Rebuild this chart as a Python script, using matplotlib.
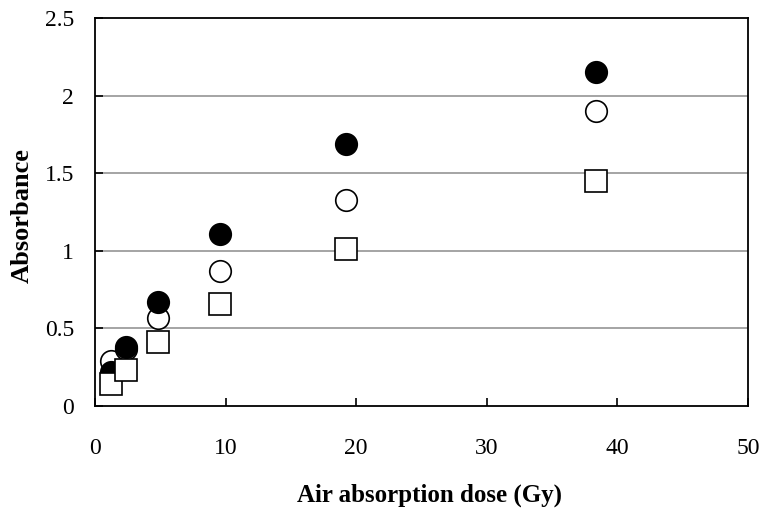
import matplotlib
matplotlib.use("Agg")
import matplotlib.pyplot as plt

# dose (Gy)
DOSE = [1.2, 2.4, 4.8, 9.6, 19.2, 38.4]
OPEN_CIRCLE = [0.29, 0.37, 0.57, 0.87, 1.33, 1.90]
FILLED_CIRCLE = [0.22, 0.38, 0.67, 1.11, 1.69, 2.15]
SQUARE = [0.14, 0.23, 0.41, 0.66, 1.01, 1.45]

X_TICKS = [0, 10, 20, 30, 40, 50]
Y_TICKS = [0, 0.5, 1, 1.5, 2, 2.5]
Y_TICK_LABELS = ["0", "0.5", "1", "1.5", "2", "2.5"]

plt.rcParams['font.family'] = ['Liberation Serif', 'DejaVu Serif']


def main():
    fig = plt.figure(figsize=(7.64, 5.08), dpi=100)
    ax = fig.add_axes([0.1243, 0.2008, 0.8547, 0.7638])

    ax.set_xlim(0, 50)
    ax.set_ylim(0, 2.5)

    for y in Y_TICKS[1:-1]:
        ax.axhline(y, color='#8c8c8c', lw=1.1, zorder=0)

    ax.plot(DOSE, OPEN_CIRCLE, 'o', ms=15.5, mfc='white', mec='black', mew=1.2,
            linestyle='none', zorder=2)
    ax.plot(DOSE, FILLED_CIRCLE, 'o', ms=15.5, mfc='black', mec='black', mew=1.2,
            linestyle='none', zorder=3)
    ax.plot(DOSE, SQUARE, 's', ms=15.5, mfc='white', mec='black', mew=1.2,
            linestyle='none', zorder=4)

    ax.set_xticks(X_TICKS)
    ax.set_yticks(Y_TICKS)
    ax.set_yticklabels(Y_TICK_LABELS)
    ax.tick_params(direction='in', length=6, width=1.2, labelsize=17)
    ax.tick_params(axis='x', pad=23)
    ax.tick_params(axis='y', pad=15)

    for sp in ax.spines.values():
        sp.set_linewidth(1.3)

    ax.set_xlabel('Air absorption dose (Gy)', fontsize=18, fontweight='bold')
    ax.set_ylabel('Absorbance', fontsize=19, fontweight='bold')
    ax.xaxis.set_label_coords(0.513, -0.2)
    ax.yaxis.set_label_coords(-0.094, 0.49)

    plt.savefig("out.png", dpi=100)


if __name__ == "__main__":
    main()
